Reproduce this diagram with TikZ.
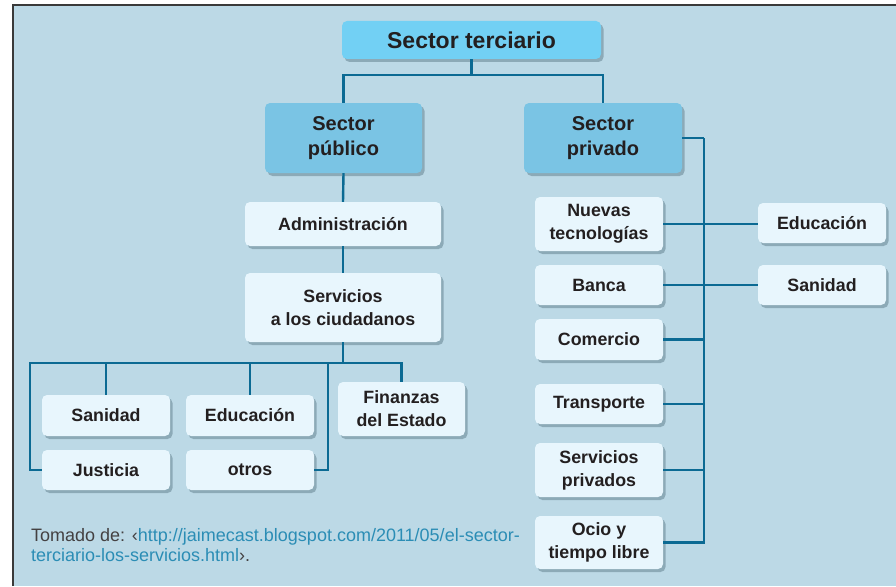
\documentclass[tikz,border=0pt]{standalone}
\usepackage{fontspec}
\setmainfont{Liberation Sans}
\usetikzlibrary{shadows}
\definecolor{bgpanel}{HTML}{BCD9E6}
\definecolor{topc}{HTML}{72D0F4}
\definecolor{midc}{HTML}{7AC4E4}
\definecolor{lowc}{HTML}{E8F6FD}
\definecolor{linec}{HTML}{0B6A93}
\definecolor{txtc}{HTML}{231F20}
\definecolor{urlc}{HTML}{2B8DB5}
\definecolor{shc}{HTML}{5E7C8A}
\definecolor{framec}{HTML}{3A3A3A}
\begin{document}
\begin{tikzpicture}[x=1pt,y=-1pt,
  boxbase/.style={rounded corners=5pt, draw=none, align=center, text=txtc, inner sep=0pt,
    drop shadow={shadow xshift=2.5pt, shadow yshift=-3pt, fill=shc, opacity=0.5}},
  topbox/.style={boxbase, fill=topc, font=\bfseries\fontsize{23}{26}\selectfont},
  midbox/.style={boxbase, fill=midc, font=\bfseries\fontsize{20}{24.5}\selectfont},
  lowbox/.style={boxbase, fill=lowc, font=\bfseries\fontsize{17.8}{23}\selectfont},
  conn/.style={draw=linec, line width=2.4pt},
]
\useasboundingbox (0,0) rectangle (896,586);
\fill[white] (0,0) rectangle (896,586);
\fill[bgpanel] (13,5) rectangle (896,586);
\draw[framec, line width=1.3pt] (13,586) -- (13,5) -- (896,5);

% nodes
\node[topbox, minimum width=259pt, minimum height=38pt] (terc) at (471.5,40) {Sector terciario};
\node[midbox, minimum width=157pt, minimum height=70pt] (pub) at (343.5,138) {Sector\\público};
\node[midbox, minimum width=158pt, minimum height=70pt] (priv) at (603,138) {Sector\\privado};
\node[lowbox, minimum width=196pt, minimum height=44pt] (adm) at (343,224) {Administración};
\node[lowbox, minimum width=196pt, minimum height=69pt] (serv) at (343,307.5) {Servicios\\a los ciudadanos};
\node[lowbox, minimum width=128pt, minimum height=41pt] (san) at (106,415.5) {Sanidad};
\node[lowbox, minimum width=128pt, minimum height=41pt] (edu) at (250,415.5) {Educación};
\node[lowbox, minimum width=127pt, minimum height=54pt] (fin) at (401.5,409) {Finanzas\\del Estado};
\node[lowbox, minimum width=128pt, minimum height=40pt] (jus) at (106,470) {Justicia};
\node[lowbox, minimum width=128pt, minimum height=40pt] (otr) at (250,470) {otros};
\node[lowbox, minimum width=128pt, minimum height=54pt] (nue) at (599,224) {Nuevas\\tecnologías};
\node[lowbox, minimum width=128pt, minimum height=40pt] (ban) at (599,285) {Banca};
\node[lowbox, minimum width=128pt, minimum height=41pt] (com) at (599,339.5) {Comercio};
\node[lowbox, minimum width=128pt, minimum height=40pt] (tra) at (599,404) {Transporte};
\node[lowbox, minimum width=128pt, minimum height=54pt] (spr) at (599,470) {Servicios\\privados};
\node[lowbox, minimum width=128pt, minimum height=53pt] (oci) at (599,542.5) {Ocio y\\tiempo libre};
\node[lowbox, minimum width=128pt, minimum height=40pt] (edu2) at (822,223) {Educación};
\node[lowbox, minimum width=128pt, minimum height=40pt] (san2) at (822,285) {Sanidad};

% connectors
\draw[conn] (terc.south) -- ++(0,16) coordinate (tj);
\draw[conn] (pub.north) |- (tj) -| (priv.north);
\draw[conn] (pub.south) -- (adm.north);
\draw[conn] (adm.south) -- (serv.north);
\draw[conn] (serv.south) -- ++(0,21) coordinate (sj);
\draw[conn] (san.north) |- (sj);
\draw[conn] (edu.north) |- (sj);
\draw[conn] (fin.north) |- (sj);
\draw[conn] (jus.west) -- ++(-12,0) |- (sj);
\draw[conn] (otr.east) -- ++(14,0) |- (sj);

\draw[conn] (priv.east) -- ++(22,0) coordinate (rt);
\draw[conn] (rt) |- (oci.east);
\draw[conn] (nue.east) -- (nue.east -| edu2.west);
\draw[conn] (ban.east) -- (san2.west);
\draw[conn] (com.east) -- (com.east -| rt);
\draw[conn] (tra.east) -- (tra.east -| rt);
\draw[conn] (spr.east) -- (spr.east -| rt);

% source
\node[anchor=base west, align=left, inner sep=0pt, text=txtc!85, font=\fontsize{18}{19.5}\selectfont] (src) at (31,561)
  {Tomado de: ‹\textcolor{urlc}{http://jaimecast.blogspot.com/2011/05/el-sector-}\\\textcolor{urlc}{terciario-los-servicios.html}›.};
\end{tikzpicture}
\end{document}
